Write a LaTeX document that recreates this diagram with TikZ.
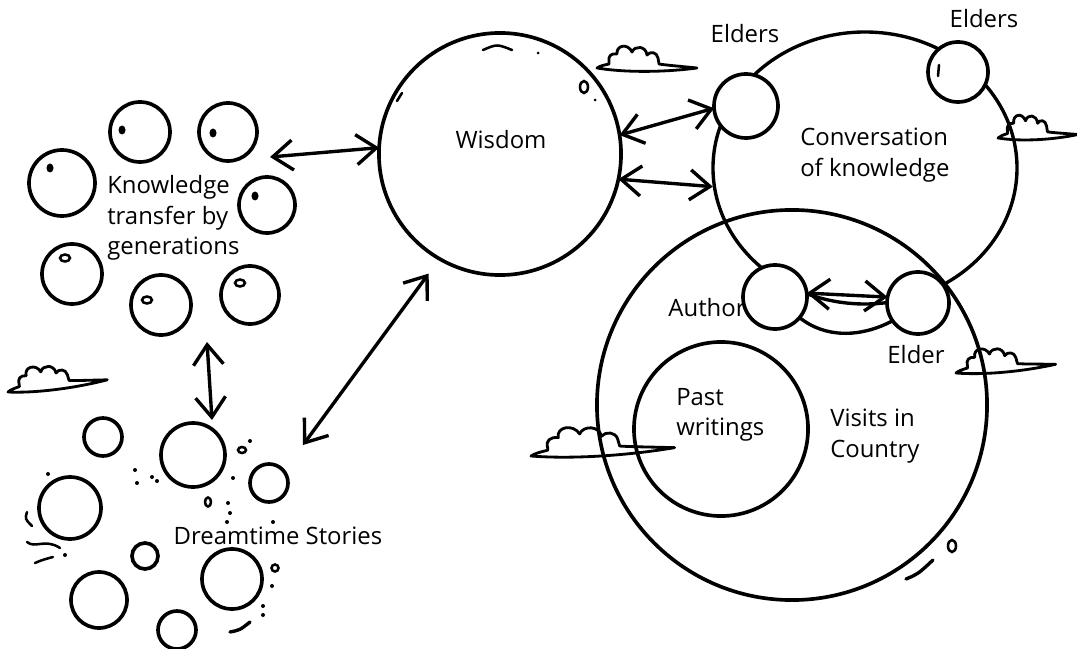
\documentclass[tikz,border=0pt]{standalone}
\usepackage{fontspec}
\setmainfont{Open Sans}
\usetikzlibrary{arrows.meta}
\usetikzlibrary{shapes.geometric}
\tikzset{
  bub/.style={circle, draw, fill=white, line width=2.6pt, inner sep=0pt, outer sep=0pt, minimum size=#1*0.05cm},
  ring/.style={circle, draw, line width=2.6pt, inner sep=0pt, outer sep=0pt, minimum size=#1*0.05cm},
  lbl/.style={inner sep=0pt, align=left, font=\fontsize{17}{21.5}\selectfont},
  twoway/.style={{Straight Barb[length=5mm,width=7.5mm]}-{Straight Barb[length=5mm,width=7.5mm]}, line width=2.4pt, line cap=round},
  speck/.style={line width=1.8pt, line cap=round},
  cloudlet/.pic={
    \draw[line width=2pt, line join=round] (0,0) .. controls (30,5) and (70,4) .. (100,0)
      .. controls (80,-2) and (68,-3) .. (62,-4) -- (61,-10)
      .. controls (60,-16) and (53,-17) .. (50,-13)
      .. controls (49,-22) and (38,-23) .. (35,-16)
      .. controls (31,-25) and (19,-23) .. (20,-14)
      .. controls (14,-15) and (11,-12) .. (12,-6)
      -- (12,-4) .. controls (7,-3) and (3,-2) .. cycle;
  }
}

\begin{document}
\begin{tikzpicture}[x=0.025cm, y=-0.025cm]
  \useasboundingbox (0,0) rectangle (1077,649);

  % knowledge transfer by generations
  \foreach \n/\x/\y/\r in {1/140/132/30, 2/228/132/29, 3/62/183/33, 4/267/205/28,
                           5/72/274/30, 6/161/305/30, 7/250/295/29}
    \node[bub=\r] (kg\n) at (\x,\y) {};
  \foreach \x/\y in {122/130, 213/133, 50/168, 255/196}
    \fill (\x,\y) ellipse [x radius=3.5, y radius=4.5];
  \foreach \x/\y in {65/258, 147/300, 240/283}
    \draw[speck] (\x,\y) ellipse [x radius=5, y radius=3.5];
  \node[lbl, anchor=west] (ktxt) at (107,218) {Knowledge\\transfer by\\generations};

  % dreamtime stories
  \foreach \n/\x/\y/\r in {1/103/437/19, 2/193/455/32, 3/269/483/19, 4/70/508/31,
                           5/145/556/13, 6/232/579/30, 7/99/600/28, 8/177/630/19}
    \node[bub=\r] (dt\n) at (\x,\y) {};
  \foreach \x/\y in {250/441, 135/470, 137/483, 152/477, 157/481, 233/478, 228/503,
                     230/513, 227/522, 48/474, 65/555, 272/586, 263/606, 263/615, 273/522}
    \fill (\x,\y) circle [radius=2];
  \draw[speck] (242,450) ellipse [x radius=4, y radius=3];
  \draw[speck] (208,502) ellipse [x radius=3, y radius=4.5];
  \draw[speck] (275,568) circle [radius=3.5];
  \draw[speck] (27,512) .. controls (25,519) .. (32,526);
  \draw[speck] (27,542) .. controls (35,549) and (45,538) .. (60,548);
  \draw[speck] (35,563) .. controls (42,560) .. (53,557);
  \draw[speck, line width=2.4pt] (230,632) .. controls (240,630) .. (250,622);
  \node[lbl] (dtxt) at (278,536) {Dreamtime Stories};

  % wisdom
  \node[ring=121] (wisdom) at (500,154) {};
  \node[lbl] (wtxt) at (501,140) {Wisdom};
  \draw[speck] (483,50) .. controls (497,44) .. (512,50);
  \fill (538,53) circle [radius=1.5];
  \draw[speck] (584,87) ellipse [x radius=4, y radius=6];
  \fill (595,100) circle [radius=1.5];
  \draw[speck] (397,101) -- (402,93);

  % conversation and visits
  \node[ellipse, draw, line width=2.4pt, inner sep=0pt, minimum width=304*0.025cm,
        minimum height=272*0.025cm] (conv) at (865,168) {};
  \node[ring=195] (visits) at (792,405) {};
  \node[ring=87] (past) at (721,429) {};

  \pic at (597,68) {cloudlet};
  \pic[xscale=0.8, rotate=2] at (998,138) {cloudlet};
  \pic[rotate=5] at (956,373) {cloudlet};
  \pic[xscale=1.44, yscale=1.2, rotate=4] at (531,456) {cloudlet};
  \pic[rotate=7] at (8,392) {cloudlet};

  \node[bub=32] (eldA) at (746,106) {};
  \node[bub=30] (eldB) at (958,72) {};
  \node[bub=32] (author) at (775,297) {};
  \node[bub=31] (elder) at (918,303) {};
  \draw[speck] (939,65) -- (938,76);

  \node[lbl] (eldAtxt) at (745,34) {Elders};
  \node[lbl] (eldBtxt) at (984,19) {Elders};
  \node[lbl] (authtxt) at (707,308) {Author};
  \node[lbl] (eldtxt) at (916,355) {Elder};
  \node[lbl, anchor=west] (convtxt) at (800,155) {Conversation\\of knowledge};
  \node[lbl, anchor=west] (pasttxt) at (676,415) {Past\\writings};
  \node[lbl, anchor=west] (vistxt) at (830,436) {Visits in\\Country};
  \draw[speck] (952,546) ellipse [x radius=4, y radius=6];
  \draw[speck, line width=2.4pt] (906,579) .. controls (918,574) .. (933,560);

  % connectors
  \coordinate (kend) at (270,157);
  \coordinate (kbot) at (207,342);
  \coordinate (dtop) at (212,420);
  \coordinate (dend) at (303,445);
  \draw[twoway] (kend) -- (wisdom.177);
  \draw[twoway] (kbot) -- (dtop);
  \draw[twoway, shorten >=13pt] (dend) -- (wisdom.240);
  \draw[twoway] (wisdom.9) -- (eldA.184);
  \draw[twoway] (wisdom.-12) -- (conv.187);
  \draw[twoway] (author.7) -- (elder.169);
  \draw[line width=2.4pt] (author.-40) .. controls (825,338) and (860,338) .. (elder.215);
\end{tikzpicture}
\end{document}
